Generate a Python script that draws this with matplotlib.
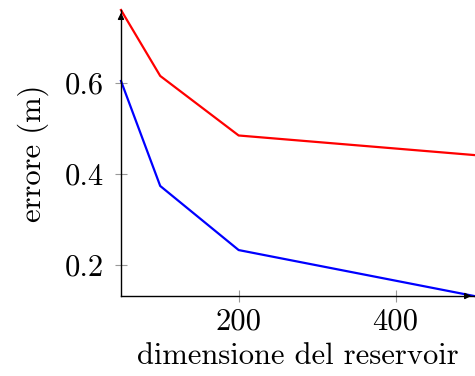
import matplotlib
matplotlib.use("Agg")
import matplotlib.pyplot as plt

x_values = [50, 100, 200, 500]
red_err = [0.760, 0.615, 0.484, 0.441]
blue_err = [0.604, 0.373, 0.232, 0.131]
x_ticks = [200, 400]
y_ticks = [0.2, 0.4, 0.6]

plt.rcParams['font.family'] = 'serif'
plt.rcParams['font.serif'] = ['cmr10']
plt.rcParams['mathtext.fontset'] = 'cm'
plt.rcParams['axes.formatter.use_mathtext'] = True


def main():
    fig = plt.figure(figsize=(4.75, 3.76), dpi=100)
    ax = fig.add_axes([0.2547, 0.2128, 0.7433, 0.7606])

    ax.plot(x_values, red_err, color='red', lw=1.6, clip_on=False)
    ax.plot(x_values, blue_err, color='blue', lw=1.6, clip_on=False)

    ax.set_xlim(50, 500)
    ax.set_ylim(min(blue_err), max(red_err))

    for side in ['top', 'right']:
        ax.spines[side].set_visible(False)
    for side in ['left', 'bottom']:
        ax.spines[side].set_linewidth(1.0)

    # arrow heads at the axis ends
    ax.annotate("", xy=(1.0, 0), xytext=(0.97, 0), xycoords='axes fraction',
                arrowprops=dict(arrowstyle='-|>', color='black', lw=1.0,
                                mutation_scale=9))
    ax.annotate("", xy=(0, 1.0), xytext=(0, 0.97), xycoords='axes fraction',
                arrowprops=dict(arrowstyle='-|>', color='black', lw=1.0,
                                mutation_scale=9))

    ax.set_xticks(x_ticks)
    ax.set_xticklabels([str(t) for t in x_ticks])
    ax.set_yticks(y_ticks)
    ax.set_yticklabels([f"{t:.1f}" for t in y_ticks])
    ax.tick_params(direction='inout', length=8, width=0.8, color='#999999',
                   labelsize=22)
    ax.tick_params(axis='x', pad=5)
    ax.tick_params(axis='y', pad=8)

    ax.set_xlabel("dimensione del reservoir", fontsize=22, labelpad=5)
    ax.set_ylabel("errore (m)", fontsize=22, labelpad=12)

    fig.savefig("out.png", dpi=100)


if __name__ == "__main__":
    main()
